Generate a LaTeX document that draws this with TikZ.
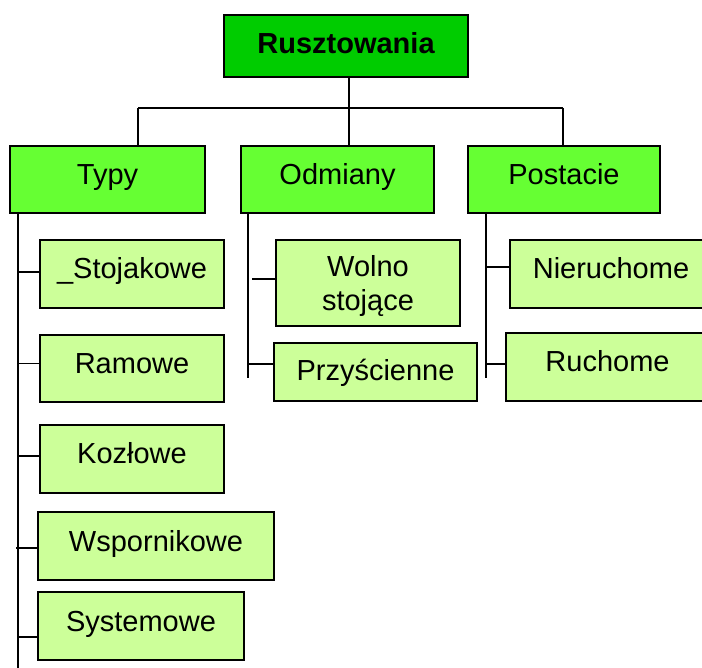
\documentclass[tikz,border=0pt]{standalone}
\usepackage{fontspec}
\setmainfont{Liberation Sans}
\usepackage{tikz}
\usetikzlibrary{positioning,calc}

\definecolor{rootgreen}{HTML}{00CC00}
\definecolor{midgreen}{HTML}{66FF33}
\definecolor{leafgreen}{HTML}{CCFF99}

\begin{document}
\begin{tikzpicture}[
    x=1pt, y=-1pt,
    line width=1.8pt,
    box/.style={rectangle, draw, inner sep=0pt, text height=21pt, text depth=11pt, font=\fontsize{29}{34}\selectfont},
    topbox/.style={box, fill=rootgreen, font=\fontsize{29}{34}\selectfont\bfseries, text height=21pt, text depth=6pt},
    groupbox/.style={box, fill=midgreen},
    leafbox/.style={box, fill=leafgreen},
    link/.style={-, line width=1.8pt}
]

\clip (0,0) rectangle (702,668);

\node[topbox, minimum width=244pt, minimum height=62pt] (root) at (346,46) {Rusztowania};

\node[groupbox, minimum width=195pt, minimum height=67pt] (typy) at (107.5,179.5) {Typy};
\node[groupbox, minimum width=193pt, minimum height=67pt] (odmiany) at (337.5,179.5) {Odmiany};
\node[groupbox, minimum width=192pt, minimum height=67pt] (postacie) at (564,179.5) {Postacie};

% Typy
\node[leafbox, minimum width=184pt, minimum height=68pt] (stojakowe) at (132,274) {\_Stojakowe};
\node[leafbox, minimum width=184pt, minimum height=67pt] (ramowe) at (132,368.5) {Ramowe};
\node[leafbox, minimum width=184pt, minimum height=68pt] (kozlowe) at (132,459) {Kozłowe};
\node[leafbox, minimum width=236pt, minimum height=68pt] (wspornikowe) at (156,546) {Wspornikowe};
\node[leafbox, minimum width=206pt, minimum height=68pt] (systemowe) at (141,626) {Systemowe};

% Odmiany
\node[leafbox, minimum width=184pt, minimum height=86pt, align=center, text height=55pt, text depth=0pt] (wolno) at (368,283) {Wolno\\stojące};
\node[leafbox, minimum width=203pt, minimum height=58pt, text depth=4pt] (przyscienne) at (375.5,372) {Przyścienne};

% Postacie
\node[leafbox, minimum width=202pt, minimum height=68pt] (nieruchome) at (611,274) {Nieruchome};
\node[leafbox, minimum width=203pt, minimum height=68pt] (ruchome) at (607.5,367) {Ruchome};

% Top level links
\coordinate (hub) at (349,108);
\coordinate (busL) at (138,108);
\coordinate (busR) at (563,108);
\draw[link] (root.south -| hub) -- (hub);
\draw[link] (busL) -- (busR);
\draw[link] (busL) -- (busL |- typy.north);
\draw[link] (hub) -- (hub |- odmiany.north);
\draw[link] (busR) -- (busR |- postacie.north);

% Side spines
\coordinate (typyEnd) at (18,668);
\coordinate (odmEnd) at (248,378);
\coordinate (posEnd) at (486,378);
\draw[link] ([yshift=2pt]typyEnd |- typy.south) -- (typyEnd);
\draw[link] ([yshift=2pt]odmEnd |- odmiany.south) -- (odmEnd);
\draw[link] ([yshift=2pt]posEnd |- postacie.south) -- (posEnd);

\draw[link] ([yshift=2pt]typyEnd |- stojakowe.west) -- ([yshift=2pt]stojakowe.west);
\draw[link] ([yshift=5pt]typyEnd |- ramowe.west) -- ([yshift=5pt]ramowe.west);
\draw[link] ([yshift=3pt]typyEnd |- kozlowe.west) -- ([yshift=3pt]kozlowe.west);
\draw[link] ([yshift=-2pt,xshift=-2pt]typyEnd |- wspornikowe.west) -- ([yshift=-2pt]wspornikowe.west);
\draw[link] ([yshift=-11pt]typyEnd |- systemowe.west) -- ([yshift=-11pt]systemowe.west);

\draw[link] ([yshift=4pt,xshift=4pt]odmEnd |- wolno.west) -- ([yshift=4pt]wolno.west);
\draw[link] ([yshift=8pt]odmEnd |- przyscienne.west) -- ([yshift=8pt]przyscienne.west);

\draw[link] ([yshift=7pt]posEnd |- nieruchome.west) -- ([yshift=7pt]nieruchome.west);
\draw[link] ([yshift=3pt]posEnd |- ruchome.west) -- ([yshift=3pt]ruchome.west);

\end{tikzpicture}
\end{document}
